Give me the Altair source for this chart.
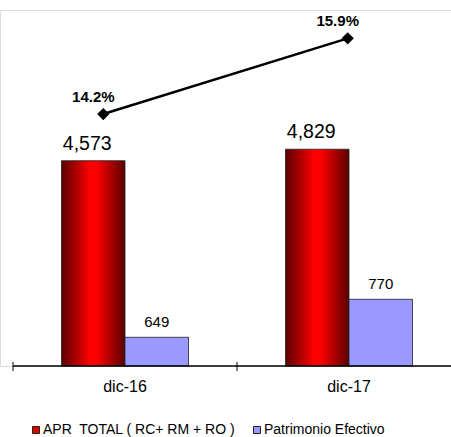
import altair as alt
import pandas as pd

categories = ["dic-16", "dic-17"]
apr_total = [4573, 4829]
patrimonio = [649, 770]
ratio_pct = [14.2, 15.9]
series_names = ["APR  TOTAL ( RC+ RM + RO )", "Patrimonio Efectivo"]
series_colors = ["#e00000", "#9999ff"]

df_apr = pd.DataFrame({"cat": categories, "value": apr_total, "serie": series_names[0]})
df_pat = pd.DataFrame({"cat": categories, "value": patrimonio, "serie": series_names[1]})
df_ratio = pd.DataFrame({"cat": categories, "ratio": ratio_pct})
df_cat = pd.DataFrame({"cat": categories})

FONT = "Liberation Sans"
BAR_W = 63.5
H = 356

x_band = alt.Scale(domain=categories, range=[13, 461], paddingInner=0, paddingOuter=0)
X = alt.X("cat:N", scale=x_band, axis=None, sort=categories)

y_apr = alt.Scale(domain=[0, 7930], zero=False, nice=False)
y_pat = alt.Scale(domain=[557.6, 1691], zero=False, nice=False, clamp=True)
y_rat = alt.Scale(domain=[8.541, 16.536], zero=False, nice=False)

red_grad = {
    "gradient": "linear",
    "x1": 0, "x2": 1, "y1": 0, "y2": 0,
    "stops": [
        {"offset": 0, "color": "#5a0000"},
        {"offset": 0.45, "color": "#ff0000"},
        {"offset": 0.55, "color": "#ff0000"},
        {"offset": 1, "color": "#5a0000"},
    ],
}

# category axis drawn as layers
axis_line = alt.Chart(df_cat).mark_rule(color="black", strokeWidth=1).encode(
    x=alt.value(13), x2=alt.value(461), y=alt.value(H)
)
axis_ticks = alt.Chart(df_cat).mark_rule(color="black", strokeWidth=1).encode(
    x=alt.X("cat:N", scale=x_band, axis=None, sort=categories, bandPosition=0),
    y=alt.value(H - 4), y2=alt.value(H + 5),
)
axis_labels = alt.Chart(df_cat).mark_text(
    font=FONT, fontSize=16, color="black", baseline="top"
).encode(
    x=X, y=alt.value(H + 13), text="cat:N",
)

red_bars = alt.Chart(df_apr).mark_bar(
    fill=red_grad, stroke="#222222", strokeWidth=0.8, width=BAR_W, xOffset=-BAR_W / 2
).encode(
    x=X,
    y=alt.Y("value:Q", scale=y_apr, axis=None),
)

red_text = alt.Chart(df_apr).mark_text(
    font=FONT, fontSize=19.5, color="black", baseline="alphabetic", dy=-11,
    xOffset=-BAR_W / 2 - 6
).encode(
    x=X,
    y=alt.Y("value:Q", scale=y_apr, axis=None),
    text=alt.Text("value:Q", format=",.0f"),
)

blue_bars = alt.Chart(df_pat).mark_bar(
    stroke="#222222", strokeWidth=0.8, width=BAR_W, xOffset=BAR_W / 2
).encode(
    x=X,
    y=alt.Y("value:Q", scale=y_pat, axis=None),
    fill=alt.Fill("serie:N", scale=alt.Scale(domain=series_names, range=series_colors),
                  legend=alt.Legend(title=None, orient="none", legendX=29, legendY=413,
                                    direction="horizontal", symbolType="square",
                                    symbolSize=49, symbolStrokeColor="#222222",
                                    symbolStrokeWidth=1, labelFont=FONT, labelFontSize=14,
                                    labelColor="black", labelOffset=0, columnPadding=14,
                                    padding=0, labelLimit=400,
                                    labelExpr="replace(datum.label, '  ', '\u00a0 ')")),
)

blue_text = alt.Chart(df_pat).mark_text(
    font=FONT, fontSize=15, color="black", baseline="alphabetic", dy=-10,
    xOffset=BAR_W / 2
).encode(
    x=X,
    y=alt.Y("value:Q", scale=y_pat, axis=None),
    text=alt.Text("value:Q", format=",.0f"),
)

x_line = alt.Scale(type="point", domain=categories, range=[103.3, 347.7], padding=0)
XL = alt.X("cat:N", scale=x_line, axis=None, sort=categories)

line = alt.Chart(df_ratio).mark_line(color="black", strokeWidth=2.5).encode(
    x=XL,
    y=alt.Y("ratio:Q", scale=y_rat, axis=None),
)

points = alt.Chart(df_ratio).mark_point(
    shape="diamond", filled=True, color="black", size=150, opacity=1
).encode(
    x=XL,
    y=alt.Y("ratio:Q", scale=y_rat, axis=None),
)

pct_text = alt.Chart(df_ratio).transform_calculate(
    label="format(datum.ratio, '.1f') + '%'"
).mark_text(
    font=FONT, fontSize=15, fontWeight="bold", color="black",
    baseline="alphabetic", dy=-12, dx=-10
).encode(
    x=XL,
    y=alt.Y("ratio:Q", scale=y_rat, axis=None),
    text="label:N",
)

chart = alt.layer(
    red_bars, red_text, blue_bars, blue_text, axis_line, axis_ticks, axis_labels,
    line, points, pct_text
).resolve_scale(
    x="independent", y="independent"
).properties(
    width=451, height=H,
    autosize=alt.AutoSizeParams(type="none"),
    padding={"left": 0, "top": 10, "right": 0, "bottom": 71},
).configure_view(
    stroke="transparent", strokeWidth=0
).configure_axis(
    grid=False
).configure(background="white")

chart.save("out.html", embed_options={"renderer": "svg", "actions": False})
